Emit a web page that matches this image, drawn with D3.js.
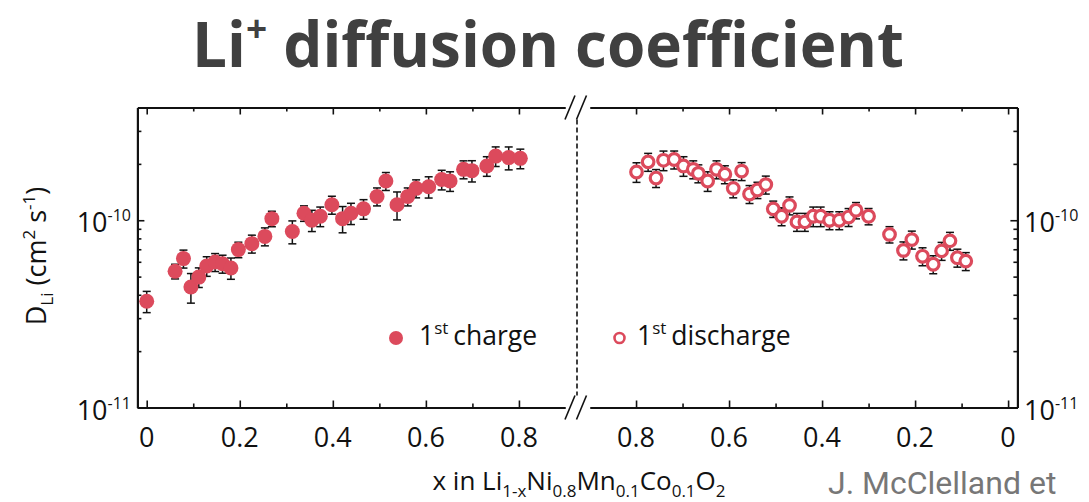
<!DOCTYPE html>
<html>
<head>
<meta charset="utf-8">
<script src="https://cdn.jsdelivr.net/npm/d3@7"></script>
<style>
  html, body { margin: 0; padding: 0; background: #fff; }
  svg { display: block; font-family: "Open Sans", "Noto Sans", sans-serif; }
</style>
</head>
<body>
<svg id="chart" width="1089" height="502"></svg>
<script>
// ── Data (D in cm^2 s^-1, err = relative error) ──
const chargeX = [0.0, 0.061, 0.079, 0.095, 0.112, 0.129, 0.147, 0.163, 0.181, 0.197, 0.226, 0.254, 0.269, 0.313, 0.338, 0.355, 0.373, 0.398, 0.421, 0.439, 0.466, 0.495, 0.514, 0.538, 0.561, 0.579, 0.606, 0.634, 0.652, 0.681, 0.699, 0.731, 0.750, 0.778, 0.803];
const chargeD = [0.369, 0.534, 0.624, 0.44, 0.497, 0.57, 0.598, 0.586, 0.556, 0.697, 0.75, 0.82, 1.02, 0.87, 1.09, 1.0, 1.05, 1.21, 1.02, 1.09, 1.15, 1.34, 1.62, 1.21, 1.34, 1.48, 1.51, 1.65, 1.62, 1.87, 1.84, 1.95, 2.2, 2.16, 2.14].map((v) => v * 1e-10);
const chargeErr = [0.13, 0.09, 0.11, 0.18, 0.12, 0.12, 0.11, 0.11, 0.13, 0.095, 0.11, 0.11, 0.095, 0.14, 0.095, 0.13, 0.12, 0.11, 0.16, 0.13, 0.12, 0.11, 0.11, 0.17, 0.11, 0.11, 0.13, 0.12, 0.12, 0.11, 0.13, 0.12, 0.12, 0.14, 0.12];

const dischargeX = [0.799, 0.774, 0.757, 0.741, 0.718, 0.698, 0.677, 0.666, 0.646, 0.627, 0.609, 0.591, 0.573, 0.556, 0.539, 0.521, 0.505, 0.487, 0.470, 0.454, 0.437, 0.419, 0.403, 0.384, 0.363, 0.343, 0.327, 0.300, 0.255, 0.225, 0.207, 0.184, 0.161, 0.143, 0.125, 0.109, 0.091];
const dischargeD = [1.81, 2.05, 1.68, 2.09, 2.11, 1.95, 1.87, 1.78, 1.62, 1.87, 1.76, 1.48, 1.83, 1.38, 1.45, 1.55, 1.15, 1.05, 1.2, 0.98, 0.98, 1.05, 1.05, 1.0, 1.0, 1.04, 1.13, 1.05, 0.84, 0.69, 0.788, 0.642, 0.582, 0.686, 0.776, 0.631, 0.605].map((v) => v * 1e-10);
const dischargeErr = [0.12, 0.11, 0.11, 0.12, 0.11, 0.12, 0.11, 0.11, 0.12, 0.11, 0.11, 0.11, 0.11, 0.11, 0.10, 0.11, 0.10, 0.11, 0.11, 0.11, 0.11, 0.12, 0.12, 0.11, 0.11, 0.11, 0.10, 0.10, 0.10, 0.11, 0.11, 0.11, 0.11, 0.11, 0.11, 0.11, 0.11];

const xTickValues = [0, 0.2, 0.4, 0.6, 0.8];
const xTickLabels = ["0", "0.2", "0.4", "0.6", "0.8"];
const xMinorTicks = [0.1, 0.3, 0.5, 0.7];
const yMajorTicks = [1e-11, 1e-10];
const yTickExponents = ["-11", "-10"];
const yMinorTicks = [2e-11, 3e-11, 4e-11, 5e-11, 6e-11, 7e-11, 8e-11, 9e-11, 2e-10, 3e-10];

const RED = "#dc4a5c";
const INK = "#111";

const svg = d3.select("#chart");

// Scales: two panels share the log y scale
const y = d3.scaleLog().domain([1e-11, 4e-10]).range([407.5, 107.5]);
const xL = d3.scaleLinear().domain([-0.02, 0.899]).range([137.4, 565]);
const xR = d3.scaleLinear().domain([0.899, -0.02]).range([590, 1017.4]);

function styleAxis(g) {
  g.select(".domain").attr("stroke", INK).attr("stroke-width", 2);
  g.selectAll(".tick line").attr("stroke", INK).attr("stroke-width", 1.6);
  g.selectAll(".tick text").remove();
}

function drawAxis(axis, tx, ty) {
  svg.append("g").attr("transform", `translate(${tx},${ty})`).call(axis).call(styleAxis);
}

// ── Axes (ticks point inward) ──
const yTop = 107.5;
const yBottom = 407.5;
[xL, xR].forEach((xs) => {
  drawAxis(d3.axisBottom(xs).tickValues(xTickValues).tickSize(-7).tickSizeOuter(0), 0, yBottom);
  drawAxis(d3.axisBottom(xs).tickValues(xMinorTicks).tickSize(-4).tickSizeOuter(0), 0, yBottom);
  drawAxis(d3.axisTop(xs).tickValues(xTickValues).tickSize(-7).tickSizeOuter(0), 0, yTop);
  drawAxis(d3.axisTop(xs).tickValues(xMinorTicks).tickSize(-4).tickSizeOuter(0), 0, yTop);
});
drawAxis(d3.axisLeft(y).tickValues(yMajorTicks).tickSize(-7).tickSizeOuter(0), xL.range()[0], 0);
drawAxis(d3.axisLeft(y).tickValues(yMinorTicks).tickSize(-4).tickSizeOuter(0), xL.range()[0], 0);
drawAxis(d3.axisRight(y).tickValues(yMajorTicks).tickSize(-7).tickSizeOuter(0), xR.range()[1], 0);
drawAxis(d3.axisRight(y).tickValues(yMinorTicks).tickSize(-4).tickSizeOuter(0), xR.range()[1], 0);

// Axis break marks and dashed separator
const breakX = [570, 581.5];
[yTop, yBottom].forEach((yy) => {
  breakX.forEach((bx) => {
    svg.append("line")
      .attr("x1", bx - 5).attr("y1", yy + 12)
      .attr("x2", bx + 5).attr("y2", yy - 12)
      .attr("stroke", INK).attr("stroke-width", 1.6);
  });
});
svg.append("line")
  .attr("x1", 577).attr("x2", 577)
  .attr("y1", yTop + 12).attr("y2", yBottom - 12)
  .attr("stroke", INK).attr("stroke-width", 1.6)
  .attr("stroke-dasharray", "5,3");

// ── Tick labels ──
const tickFont = 27;
[xL, xR].forEach((xs) => {
  svg.append("g").selectAll("text")
    .data(xTickValues)
    .join("text")
    .attr("x", (d) => xs(d))
    .attr("y", 447)
    .attr("text-anchor", "middle")
    .attr("font-size", tickFont)
    .attr("fill", INK)
    .text((d, i) => xTickLabels[i]);
});

function powerLabel(x, yy, exponent, anchorEnd) {
  const t = svg.append("text")
    .attr("x", x).attr("y", yy + 12)
    .attr("text-anchor", anchorEnd ? "end" : "start")
    .attr("font-size", tickFont)
    .attr("fill", INK);
  t.append("tspan").text("10");
  t.append("tspan").attr("dy", -11).attr("font-size", 16).text(exponent);
}
yMajorTicks.forEach((v, i) => {
  powerLabel(131, y(v), yTickExponents[i], true);
  powerLabel(1024, y(v), yTickExponents[i], false);
});

// ── Error bars then markers ──
function drawSeries(xs, xVals, dVals, errVals, filled) {
  const rows = xVals.map((x, i) => ({ x, d: dVals[i], e: errVals[i] }));
  const g = svg.append("g");
  const bars = g.selectAll("g.err").data(rows).join("g").attr("class", "err")
    .attr("stroke", INK).attr("stroke-width", 1.5);
  bars.append("line")
    .attr("x1", (r) => xs(r.x)).attr("x2", (r) => xs(r.x))
    .attr("y1", (r) => y(r.d * (1 + r.e))).attr("y2", (r) => y(r.d * (1 - r.e)));
  [1, -1].forEach((sign) => {
    bars.append("line")
      .attr("x1", (r) => xs(r.x) - 4).attr("x2", (r) => xs(r.x) + 4)
      .attr("y1", (r) => y(r.d * (1 + sign * r.e))).attr("y2", (r) => y(r.d * (1 + sign * r.e)));
  });
  g.selectAll("circle").data(rows).join("circle")
    .attr("cx", (r) => xs(r.x))
    .attr("cy", (r) => y(r.d))
    .attr("r", filled ? 7.5 : 5.8)
    .attr("fill", filled ? RED : "#fff")
    .attr("stroke", filled ? "none" : RED)
    .attr("stroke-width", filled ? 0 : 3.2);
}
drawSeries(xL, chargeX, chargeD, chargeErr, true);
drawSeries(xR, dischargeX, dischargeD, dischargeErr, false);

// ── Legend ──
const legendY = 338;
svg.append("circle").attr("cx", 396).attr("cy", legendY).attr("r", 7).attr("fill", RED);
svg.append("circle").attr("cx", 619.5).attr("cy", legendY).attr("r", 5).attr("fill", "#fff")
  .attr("stroke", RED).attr("stroke-width", 2.6);

function ordinalLabel(x, text) {
  const t = svg.append("text").attr("x", x).attr("y", legendY + 7)
    .attr("font-size", 26.5).attr("fill", INK);
  t.append("tspan").text("1");
  t.append("tspan").attr("dy", -11).attr("font-size", 17).text("st");
  t.append("tspan").attr("dy", 11).attr("dx", 5).text(text);
}
ordinalLabel(419, "charge");
ordinalLabel(637, "discharge");

// ── Axis titles ──
const yTitle = svg.append("text")
  .attr("transform", "translate(46,256) rotate(-90)")
  .attr("text-anchor", "middle")
  .attr("font-size", 27)
  .attr("fill", INK);
yTitle.append("tspan").text("D");
yTitle.append("tspan").attr("dy", 7).attr("font-size", 17).text("Li");
yTitle.append("tspan").attr("dy", -7).text(" (cm");
yTitle.append("tspan").attr("dy", -11).attr("font-size", 17).text("2");
yTitle.append("tspan").attr("dy", 11).text(" s");
yTitle.append("tspan").attr("dy", -11).attr("font-size", 17).text("-1");
yTitle.append("tspan").attr("dy", 11).text(")");

const formulaParts = [["x in Li", "1-x"], ["Ni", "0.8"], ["Mn", "0.1"], ["Co", "0.1"], ["O", "2"]];
const xTitle = svg.append("text")
  .attr("x", 579).attr("y", 490)
  .attr("text-anchor", "middle")
  .attr("font-size", 26)
  .attr("fill", INK);
formulaParts.forEach(([base, sub], i) => {
  xTitle.append("tspan").attr("dy", i === 0 ? 0 : -7).text(base);
  xTitle.append("tspan").attr("dy", 7).attr("font-size", 17).text(sub);
});

// ── Title and citation ──
const title = svg.append("text")
  .attr("x", 548).attr("y", 67)
  .attr("text-anchor", "middle")
  .attr("font-size", 62)
  .attr("font-weight", "bold")
  .attr("fill", "#404040");
title.append("tspan").text("Li");
title.append("tspan").attr("dy", -25).attr("font-size", 37).text("+");
title.append("tspan").attr("dy", 25).text(" diffusion coefficient");

// Citation sits at the bottom-right edge; kept just inside the frame
svg.append("text")
  .attr("x", 828).attr("y", 494)
  .attr("font-family", "Roboto, sans-serif")
  .attr("font-size", 32)
  .attr("fill", "#777")
  .text("J. McClelland et");
</script>
</body>
</html>
